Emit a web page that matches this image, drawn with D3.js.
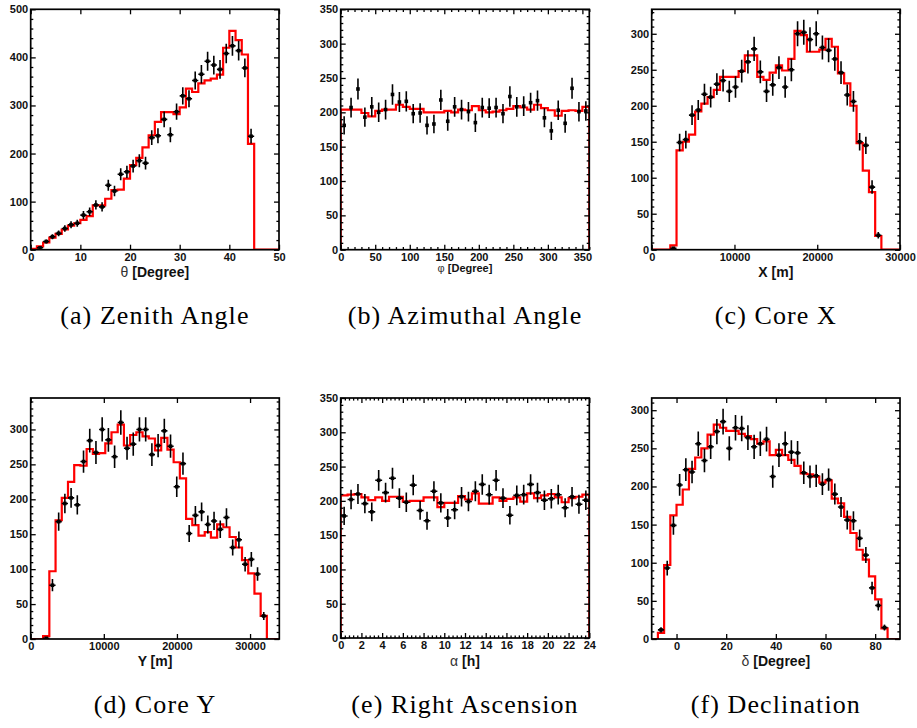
<!DOCTYPE html>
<html><head><meta charset="utf-8">
<script src="https://cdn.jsdelivr.net/npm/d3@7"></script>
<style>body{margin:0;background:#fff}svg{display:block}</style>
</head><body>
<svg id="c" width="917" height="728"></svg>
<script>
// ---------------- DATA ----------------
// (a) Zenith angle: 40 bins over [0,50] degrees
const zenithRange = [0, 50];
const zenithCounts = [null,4,17,27,34,44,52,55,72,79,93,89,134,122,157,162,174,185,180,233,237,271,239,287,320,314,352,365,392,384,375,408,424,414,378,236,null,null,null,null];
const zenithSim = [2,7,15,25,33,42,50,55,62,70,92,92,106,124,125,148,176,191,213,238,266,286,286,282,296,335,328,346,352,356,364,420,455,436,406,220,0,0,0,0];
const zenithXTicks = [0,10,20,30,40,50];
const zenithYTicks = [0,100,200,300,400,500];

// (b) Azimuthal angle: 36 bins over [0,360] degrees
const azimuthRange = [0, 360];
const azimuthCounts = [181,207,234,193,208,200,204,226,215,216,198,199,181,183,218,187,208,204,201,185,207,206,207,198,223,208,209,214,217,192,173,203,184,235,201,202];
const azimuthSim = [204,204,204,199,194,202,204,204,211,208,205,205,200,200,200,202,200,204,203,209,203,200,201,203,205,209,207,204,211,206,203,195,202,203,202,208];
const azimuthXTicks = [0,50,100,150,200,250,300,350];
const azimuthYTicks = [0,50,100,150,200,250,300,350];

// (c) Core X: 40 bins over [0,30000] m
const coreXRange = [0, 30000];
const coreXCounts = [null,null,null,2,149,153,187,194,216,212,230,235,220,226,248,261,279,247,220,229,253,226,250,300,302,292,300,281,277,265,246,215,206,150,145,87,20,null,null,null];
const coreXSim = [0,0,0,6,138,150,160,192,203,212,222,240,240,240,248,270,270,240,236,246,256,249,265,304,298,275,275,278,293,282,245,231,200,148,110,80,19,0,0,0];
const coreXXTicks = [0,10000,20000,30000];
const coreXYTicks = [0,50,100,150,200,250,300];

// (d) Core Y: 40 bins over [0,34000] m
const coreYRange = [0, 34000];
const coreYCounts = [null,null,1,77,168,194,202,192,254,284,267,300,285,261,310,273,279,300,300,264,277,298,276,218,251,151,177,182,164,169,157,174,131,142,107,114,93,33,null,null];
const coreYSim = [0,0,4,97,170,202,225,249,248,272,265,266,280,296,307,277,292,296,290,287,270,288,271,253,230,172,163,148,153,145,164,160,146,131,113,94,65,33,0,0];
const coreYXTicks = [0,10000,20000,30000];
const coreYYTicks = [0,50,100,150,200,250,300];

// (e) Right ascension: 36 bins over [0,24] h
const raRange = [0, 24];
const raCounts = [178,202,210,196,184,230,212,233,204,198,223,186,171,214,197,175,187,206,199,214,224,209,230,204,179,208,209,224,212,201,203,209,190,206,195,201];
const raSim = [208,209,210,205,201,205,200,206,206,199,200,200,205,205,191,197,197,207,202,211,196,196,205,200,203,205,199,211,204,208,210,205,198,204,206,209];
const raXTicks = [0,2,4,6,8,10,12,14,16,18,20,22,24];
const raYTicks = [0,50,100,150,200,250,300,350];

// (f) Declination: 40 bins over [-10,90] degrees
const decRange = [-10, 90];
const decCounts = [null,12,93,149,202,222,219,256,234,252,272,285,250,277,276,264,252,256,262,213,241,256,245,244,218,213,214,203,209,190,173,156,155,132,110,67,44,15,null,null];
const decSim = [0,8,97,162,176,196,223,238,250,268,281,277,273,273,269,266,262,256,259,241,248,241,235,227,217,216,213,205,208,184,178,160,139,117,104,82,52,14,0,0];
const decXTicks = [0,20,40,60,80];
const decYTicks = [0,50,100,150,200,250,300];

const yMaxima = [500, 350, 334, 345, 350, 316];
const captions = ["(a) Zenith Angle","(b) Azimuthal Angle","(c) Core X","(d) Core Y","(e) Right Ascension","(f) Declination"];

// ---------------- DRAWING ----------------
const svg = d3.select("#c");
const SANS = "Liberation Sans, Arial, Helvetica, sans-serif";

function range(a, b, s){ const r=[]; for(let v=a; v<=b+1e-9; v+=s) r.push(+v.toFixed(6)); return r; }

const panels = [
  {id:"a", rect:[30.7,9.3,279,249.7], dom:zenithRange, counts:zenithCounts, sim:zenithSim, xt:zenithXTicks, yt:zenithYTicks, yMax:yMaxima[0], xMinor:null, yMinor:20, hErr:true,
   title:[["θ",true],[" [Degree]",false]], tSize:14, tY:277, cap:captions[0], capY:324},
  {id:"b", rect:[340.7,9.3,589.3,249.7], dom:azimuthRange, counts:azimuthCounts, sim:azimuthSim, xt:azimuthXTicks, yt:azimuthYTicks, yMax:yMaxima[1], xMinor:10, yMinor:10, hErr:false,
   title:[["φ",true],[" [Degree]",false]], tSize:11, tY:271.5, cap:captions[1], capY:324},
  {id:"c", rect:[651.7,9.3,900,249.7], dom:coreXRange, counts:coreXCounts, sim:coreXSim, xt:coreXXTicks, yt:coreXYTicks, yMax:yMaxima[2], xMinor:null, yMinor:10, hErr:true,
   title:[["X [m]",false]], tSize:14, tY:276.5, cap:captions[2], capY:324},
  {id:"d", rect:[30.7,398,279.3,639], dom:coreYRange, counts:coreYCounts, sim:coreYSim, xt:coreYXTicks, yt:coreYYTicks, yMax:yMaxima[3], xMinor:null, yMinor:10, hErr:true,
   title:[["Y [m]",false]], tSize:14, tY:666, cap:captions[3], capY:713},
  {id:"e", rect:[340.7,398,589.3,638], dom:raRange, counts:raCounts, sim:raSim, xt:raXTicks, yt:raYTicks, yMax:yMaxima[4], xMinor:0.4, yMinor:10, hErr:true,
   title:[["α",true],[" [h]",false]], tSize:14, tY:665.5, cap:captions[4], capY:713},
  {id:"f", rect:[651.7,398,900,639], dom:decRange, counts:decCounts, sim:decSim, xt:decXTicks, yt:decYTicks, yMax:yMaxima[5], xMinor:null, yMinor:10, hErr:true,
   title:[["δ",true],[" [Degree]",false]], tSize:14, tY:666, cap:captions[5], capY:713}
];

function styleAxis(g, labels){
  g.select(".domain").remove();
  g.selectAll(".tick line").attr("stroke","#000").attr("stroke-width",1.3);
  g.selectAll(".tick text").attr("fill","#111").attr("font-family",SANS).attr("font-weight","bold").attr("font-size",11);
  if(!labels) g.selectAll(".tick text").remove();
}

panels.forEach(p => {
  const [L,T,R,B] = p.rect;
  const x = d3.scaleLinear().domain(p.dom).range([L,R]);
  const y = d3.scaleLinear().domain([0,p.yMax]).range([B,T]);
  const g = svg.append("g");
  const clipId = "clip" + p.id;
  svg.append("clipPath").attr("id",clipId).append("rect")
     .attr("x",L).attr("y",T-1).attr("width",R-L).attr("height",B-T+1);

  const n = p.sim.length;
  const w = (p.dom[1]-p.dom[0])/n;
  const lo = i => p.dom[0] + i*w;

  // simulation histogram (red step line)
  const path = d3.path();
  path.moveTo(x(lo(0)), y(0));
  p.sim.forEach((v,i) => { path.lineTo(x(lo(i)), y(v)); path.lineTo(x(lo(i+1)), y(v)); });
  path.lineTo(x(lo(n)), y(0));
  g.append("path").attr("d", path.toString()).attr("fill","none")
   .attr("stroke","#ff0000").attr("stroke-width",2.2).attr("stroke-linejoin","miter")
   .attr("clip-path",`url(#${clipId})`);

  // data points with Poisson errors
  const pts = p.counts.map((v,i)=>({v, i})).filter(d => d.v != null);
  const pg = g.append("g").attr("clip-path",`url(#${clipId})`);
  pts.forEach(d => {
    const cx = x(lo(d.i) + w/2), cy = y(d.v), e = Math.sqrt(d.v);
    pg.append("line").attr("x1",cx).attr("x2",cx).attr("y1",y(d.v+e)).attr("y2",y(Math.max(0,d.v-e)))
      .attr("stroke","#000").attr("stroke-width",1.6);
    if(p.hErr) pg.append("line").attr("x1",x(lo(d.i))).attr("x2",x(lo(d.i+1))).attr("y1",cy).attr("y2",cy)
      .attr("stroke","#000").attr("stroke-width",1.6);
    pg.append("rect").attr("x",cx-1.8).attr("y",cy-1.8).attr("width",3.6).attr("height",3.6).attr("fill","#000");
  });

  // axes (ticks inside, mirrored)
  const fmt = d3.format("d");
  const bx = svg.append("g").attr("transform",`translate(0,${B})`)
     .call(d3.axisBottom(x).tickValues(p.xt).tickSize(-5).tickPadding(3.5).tickFormat(fmt));
  styleAxis(bx, true);
  const tx = svg.append("g").attr("transform",`translate(0,${T})`)
     .call(d3.axisTop(x).tickValues(p.xt).tickSize(-5));
  styleAxis(tx, false);
  if(p.xMinor){
    const mv = range(p.dom[0], p.dom[1], p.xMinor).filter(v => !p.xt.some(t => Math.abs(t-v)<1e-6));
    styleAxis(svg.append("g").attr("transform",`translate(0,${B})`).call(d3.axisBottom(x).tickValues(mv).tickSize(-2.6)), false);
    styleAxis(svg.append("g").attr("transform",`translate(0,${T})`).call(d3.axisTop(x).tickValues(mv).tickSize(-2.6)), false);
  }
  const ly = svg.append("g").attr("transform",`translate(${L},0)`)
     .call(d3.axisLeft(y).tickValues(p.yt).tickSize(-5).tickPadding(2.5).tickFormat(fmt));
  styleAxis(ly, true);
  const ry = svg.append("g").attr("transform",`translate(${R},0)`)
     .call(d3.axisRight(y).tickValues(p.yt).tickSize(-5));
  styleAxis(ry, false);
  const ym = range(0, p.yMax, p.yMinor).filter(v => !p.yt.includes(v));
  styleAxis(svg.append("g").attr("transform",`translate(${L},0)`).call(d3.axisLeft(y).tickValues(ym).tickSize(-2.6)), false);
  styleAxis(svg.append("g").attr("transform",`translate(${R},0)`).call(d3.axisRight(y).tickValues(ym).tickSize(-2.6)), false);

  // frame
  svg.append("rect").attr("x",L).attr("y",T).attr("width",R-L).attr("height",B-T)
     .attr("fill","none").attr("stroke","#000").attr("stroke-width",1.7);

  // axis title
  const t = svg.append("text").attr("x",(L+R)/2).attr("y",p.tY).attr("text-anchor","middle")
     .attr("font-family",SANS).attr("font-size",p.tSize).attr("fill","#111");
  p.title.forEach(([s,greek]) => {
    const ts = t.append("tspan").text(s).attr("font-weight", greek ? "normal" : "bold");
    if(greek) ts.attr("fill","#333");
  });

  // caption
  svg.append("text").attr("x",(L+R)/2).attr("y",p.capY).attr("text-anchor","middle")
     .attr("font-family","Liberation Serif, Times New Roman, serif").attr("font-size",26)
     .attr("letter-spacing",1.1).attr("fill","#000").text(p.cap);
});
</script>
</body></html>
